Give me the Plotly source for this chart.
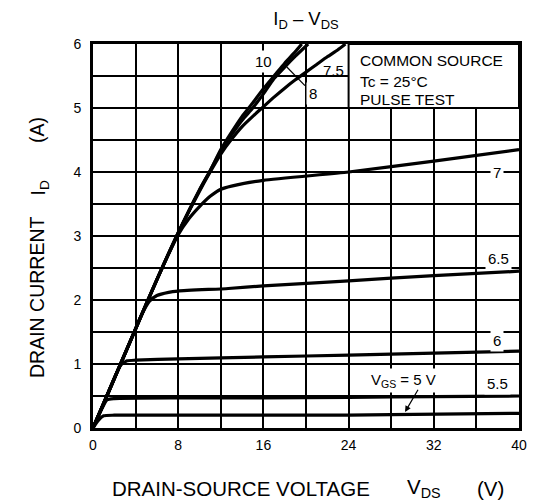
import plotly.graph_objects as go

# ---- data ----
vds_10 = [0, 1, 2, 4, 6, 8, 10, 11, 12, 13, 14, 15, 16, 17, 18, 19, 19.6]
id_10 = [0, 0.38, 0.77, 1.55, 2.32, 3.05, 3.72, 4.02, 4.35, 4.62, 4.87, 5.08, 5.3,
         5.5, 5.7, 5.88, 6.0]

vds_8 = [0, 1, 2, 4, 6, 8, 10, 11, 12, 13, 14, 15, 16, 17, 18, 19, 20.2]
id_8 = [0, 0.38, 0.77, 1.55, 2.32, 3.05, 3.72, 4.02, 4.33, 4.58, 4.81, 5.0, 5.22,
        5.46, 5.64, 5.81, 6.0]

vds_75 = [0, 1, 2, 4, 6, 8, 10, 11, 12, 13, 14, 15, 16, 17, 18, 19, 20, 21, 22, 23, 23.7]
id_75 = [0, 0.38, 0.77, 1.55, 2.32, 3.05, 3.7, 4.0, 4.28, 4.51, 4.71, 4.87, 5.02,
         5.17, 5.31, 5.44, 5.56, 5.68, 5.8, 5.91, 6.0]

vds_7 = [0, 2, 4, 6, 8, 9, 10, 11, 12, 13, 16, 24, 32, 40]
id_7 = [0, 0.77, 1.55, 2.32, 3.02, 3.27, 3.46, 3.62, 3.73, 3.78, 3.87, 4.0, 4.17, 4.35]

vds_65 = [0, 2, 4, 4.6, 5.3, 6, 7.1, 8, 12.7, 16, 24, 32, 40]
id_65 = [0, 0.77, 1.55, 1.78, 1.98, 2.07, 2.12, 2.14, 2.18, 2.22, 2.3, 2.38, 2.45]

vds_6 = [0, 1, 2, 2.6, 3.2, 4, 8, 16, 24, 32, 40]
id_6 = [0, 0.39, 0.78, 0.98, 1.05, 1.06, 1.08, 1.11, 1.14, 1.17, 1.2]

vds_55 = [0, 0.6, 1.3, 2, 8, 16, 24, 32, 40]
id_55 = [0, 0.22, 0.44, 0.46, 0.47, 0.47, 0.48, 0.49, 0.5]

vds_5 = [0, 0.5, 1, 2, 24, 28, 40]
id_5 = [0, 0.12, 0.19, 0.2, 0.2, 0.21, 0.23]

curves = [
    (vds_5, id_5), (vds_55, id_55), (vds_6, id_6), (vds_65, id_65),
    (vds_7, id_7), (vds_75, id_75), (vds_8, id_8), (vds_10, id_10),
]

x_ticks = [0, 8, 16, 24, 32, 40]
y_ticks = [0, 1, 2, 3, 4, 5, 6]

FONT = "Liberation Sans, Arial, sans-serif"

# page body has an 8px margin; the figure starts at (8, 8) in the window
BODY = 8
W, H = 528, 496
ML, MR, MT, MB = 85, 17, 36, 76
PW, PH = W - ML - MR, H - MT - MB


def px_x(px):
    return (px - BODY - ML) / PW


def px_y(py):
    return (BODY + MT + PH - py) / PH


fig = go.Figure()
for vx, iy in curves:
    fig.add_trace(go.Scatter(
        x=vx, y=iy, mode="lines",
        line=dict(color="black", width=3.2, shape="spline", smoothing=0.5),
        hoverinfo="skip", showlegend=False,
    ))

grid = dict(gridcolor="black", gridwidth=1.5)

fig.update_layout(
    width=W, height=H,
    margin=dict(l=ML, r=MR, t=MT, b=MB, autoexpand=False),
    paper_bgcolor="white", plot_bgcolor="white",
    font=dict(family=FONT, color="black", size=14),
    showlegend=False,
    title=dict(text="I<sub>D</sub> – V<sub>DS</sub>", x=0.5, xref="paper",
               xanchor="center", y=1 - (19 - BODY) / H, yanchor="middle",
               font=dict(size=18.5)),
    xaxis=dict(range=[0, 40], tickvals=x_ticks, ticks="", showgrid=True, **grid,
               minor=dict(dtick=4, showgrid=True, **grid),
               showline=True, linecolor="black", linewidth=3, mirror=True,
               zeroline=False, tickfont=dict(size=14), ticklabelstandoff=2,
               automargin=False, fixedrange=True),
    yaxis=dict(range=[0, 6], tickvals=y_ticks, ticks="", showgrid=True, **grid,
               minor=dict(dtick=0.5, showgrid=True, **grid),
               showline=True, linecolor="black", linewidth=3, mirror=True,
               zeroline=False, tickfont=dict(size=14), ticklabelstandoff=6,
               automargin=False, fixedrange=True),
)

# legend box (conditions)
fig.add_shape(type="rect", xref="x", yref="y", x0=24, x1=40, y0=5, y1=6,
              fillcolor="white", line=dict(color="black", width=2), layer="above")
for txt, yy in [("COMMON SOURCE", 5.75), ("Tc = 25°C", 5.41), ("PULSE TEST", 5.13)]:
    fig.add_annotation(x=24.85, y=yy, xref="x", yref="y", text=txt, showarrow=False,
                       xanchor="left", yanchor="middle", font=dict(size=15.5))

# curve labels
labels = [
    ("10", 16.0, 5.72, True), ("7.5", 22.6, 5.59, False), ("8", 20.7, 5.23, True),
    ("7", 37.9, 4.0, True), ("6.5", 38.1, 2.65, True), ("6", 37.9, 1.375, True),
    ("5.5", 38.0, 0.70, True), ("V<sub>GS</sub> = 5 V", 29.2, 0.75, True),
]
for txt, xx, yy, bg in labels:
    fig.add_annotation(x=xx, y=yy, xref="x", yref="y", text=txt, showarrow=False,
                       bgcolor="white" if bg else "rgba(0,0,0,0)", borderpad=2,
                       font=dict(size=15))

# leader line for "8" and arrow for VGS = 5 V
fig.add_shape(type="line", xref="x", yref="y", x0=18.2, y0=5.64, x1=19.9, y1=5.35,
              line=dict(color="black", width=1.2), layer="above")
fig.add_annotation(x=29.3, y=0.25, ax=30.6, ay=0.62, axref="x", ayref="y",
                   xref="x", yref="y", text="", showarrow=True,
                   arrowhead=2, arrowsize=1, arrowwidth=1.2, arrowcolor="black")

# axis titles (positions given in window pixels)
xt = [("DRAIN-SOURCE VOLTAGE", 110), ("V<sub>DS</sub>", 405), ("(V)", 475)]
for txt, px in xt:
    fig.add_annotation(x=px_x(px), y=px_y(488), xref="paper", yref="paper", text=txt,
                       showarrow=False, xanchor="left", yanchor="middle",
                       font=dict(size=20.5))

yt = [("DRAIN CURRENT", 297), ("I<sub>D</sub>", 188), ("(A)", 115)]
for txt, py in yt:
    fig.add_annotation(x=px_x(24), y=px_y(py), xref="paper", yref="paper", text=txt,
                       showarrow=False, textangle=-90, font=dict(size=19.5))

fig.write_html("out.html")
